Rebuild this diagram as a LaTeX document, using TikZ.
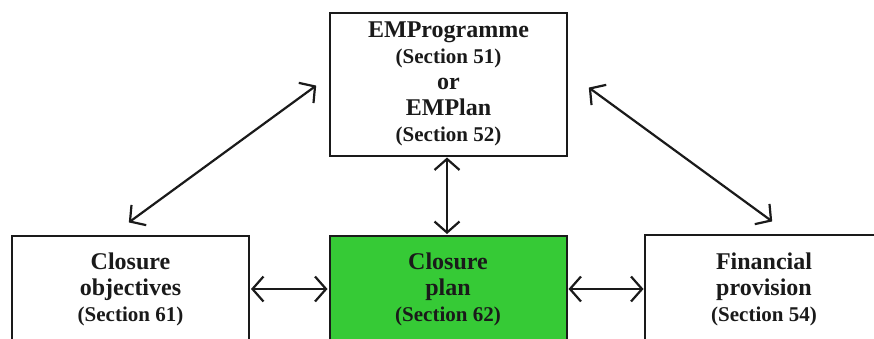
\documentclass[tikz,border=0pt]{standalone}
\usepackage{fontspec}
\setmainfont{Liberation Serif}
\usetikzlibrary{arrows.meta}
\definecolor{boxgreen}{HTML}{36CA36}
\definecolor{ink}{HTML}{1A1A1A}
\begin{document}
\begin{tikzpicture}[x=1pt,y=-1pt,
  boxline/.style={draw=ink, line width=2pt},
  box/.style={boxline, minimum width=237pt, align=center, inner sep=0pt,
    font=\bfseries\fontsize{24}{26}\selectfont, text=ink},
  conn/.style={draw=ink, line width=2.2pt, {Straight Barb[length=11pt,width=25pt,line width=2.2pt]}-{Straight Barb[length=11pt,width=25pt,line width=2.2pt]}, shorten <=1pt, shorten >=1pt}]
\useasboundingbox (0,0) rectangle (874,338);
\clip (0,0) rectangle (874,338);
\fill[white] (0,0) rectangle (874,338);
\newcommand{\secfont}{\fontsize{21}{26}\selectfont}
\node[box, minimum height=143pt] (em) at (448.5,84)
  {EMProgramme\\{\secfont (Section 51)}\\or\\EMPlan\\{\secfont (Section 52)}};
\node[box, minimum height=106pt] (obj) at (130.5,289)
  {Closure\\objectives\\{\secfont (Section 61)}};
\node[box, minimum height=106pt, fill=boxgreen] (plan) at (448,289)
  {Closure\\plan\\{\secfont (Section 62)}};
\node[box, draw=none, minimum height=106pt] (fin) at (764,289)
  {Financial\\provision\\{\secfont (Section 54)}};
\draw[boxline] (fin.south west) rectangle ([xshift=40pt]fin.north east);
\coordinate (l1) at (128,223);
\coordinate (l2) at (317,85);
\coordinate (r1) at (588,87);
\coordinate (r2) at (773,222);
\draw[conn] (em.south -| 447,0) -- (plan.north -| 447,0);
\draw[conn] (obj.east |- 0,289) -- (plan.west |- 0,289);
\draw[conn] (plan.east |- 0,289) -- (fin.west |- 0,289);
\draw[conn] (l1) -- (l2);
\draw[conn] (r1) -- (r2);
\end{tikzpicture}
\end{document}
